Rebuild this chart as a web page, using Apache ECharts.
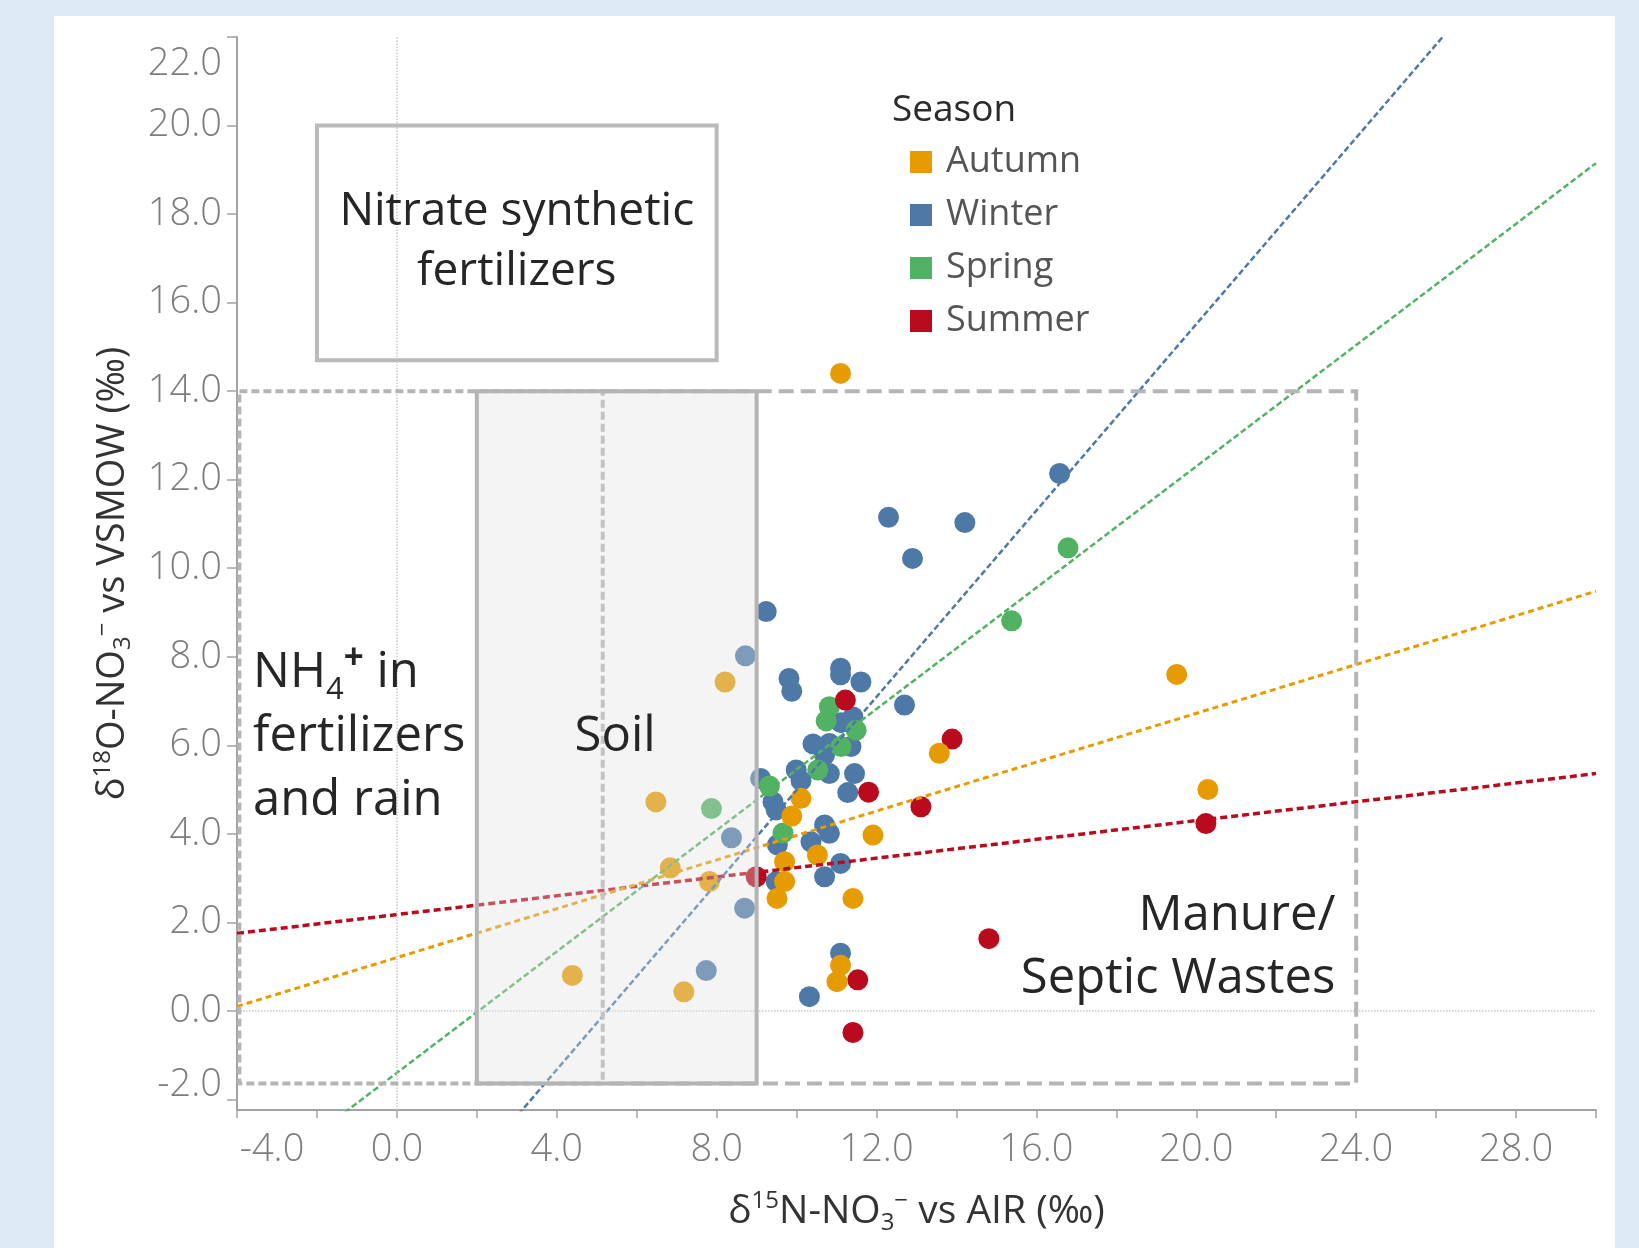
<!DOCTYPE html>
<html>
<head>
<meta charset="utf-8">
<title>Season</title>
<script src="https://cdn.jsdelivr.net/npm/echarts@6/dist/echarts.min.js"></script>
<style>
    html, body {margin: 0; padding: 0; background: #dde9f5;}
    #chart {width: 1639px; height: 1248px;}
</style>
</head>
<body>
<div id="chart"></div>
<script>
var FONT = '"Open Sans", "Noto Sans", sans-serif';

// 季节 (图例顺序)
var seasons = ['Autumn', 'Winter', 'Spring', 'Summer'];
var seasonColors = {Autumn: '#e69b00', Winter: '#4e79a7', Spring: '#52b264', Summer: '#b90a1e'};

// δ15N, δ18O
var autumnPoints = [
    [11.10, 14.40], [8.21, 7.43], [6.48, 4.72], [6.84, 3.23], [7.82, 2.92], [4.39, 0.80], [7.18, 0.43],
    [19.51, 7.60], [13.57, 5.82], [20.29, 5.00], [11.91, 3.97], [10.11, 4.80], [9.88, 4.40], [9.70, 3.37],
    [10.52, 3.52], [9.70, 2.92], [9.51, 2.54], [11.41, 2.54], [11.10, 1.03], [11.01, 0.66]
];
var winterPoints = [
    [8.72, 8.02], [9.24, 9.02], [12.30, 11.15], [14.21, 11.03], [12.90, 10.22], [16.58, 12.14],
    [9.81, 7.51], [9.88, 7.22], [11.10, 7.74], [11.10, 7.59], [11.61, 7.43], [12.70, 6.91],
    [11.41, 6.64], [11.11, 6.51], [10.41, 6.03], [10.82, 6.04], [11.36, 5.97], [10.70, 5.78],
    [9.10, 5.25], [9.99, 5.44], [10.82, 5.36], [11.45, 5.36], [10.11, 5.20], [11.28, 4.93],
    [9.41, 4.72], [9.49, 4.54], [8.37, 3.91], [9.52, 3.75], [10.70, 4.20], [10.82, 4.01],
    [10.36, 3.82], [11.10, 3.33], [10.70, 3.03], [9.49, 2.92], [8.70, 2.32], [7.74, 0.91],
    [11.10, 1.30], [10.32, 0.32]
];
var springPoints = [
    [16.79, 10.46], [15.38, 8.81], [10.82, 6.87], [10.74, 6.55], [11.49, 6.34],
    [11.11, 5.97], [10.53, 5.44], [9.32, 5.08], [9.66, 4.02], [7.87, 4.57]
];
var summerPoints = [
    [11.22, 7.02], [13.89, 6.14], [11.80, 4.94], [13.11, 4.61], [20.24, 4.23],
    [8.99, 3.03], [14.81, 1.63], [11.53, 0.70], [11.41, -0.49]
];

// 趋势线两端 (x = -4 与 x = 30)
var autumnTrend = [[-4, 0.10], [30, 9.48]];
var winterTrend = [[-4, -9.75], [30, 26.04]];
var springTrend = [[-4, -4.14], [30, 19.15]];
var summerTrend = [[-4, 1.75], [30, 5.36]];

// 刻度
var xTicks = [-4, -2, 0, 2, 4, 6, 8, 10, 12, 14, 16, 18, 20, 22, 24, 26, 28, 30];
var xLabels = [-4, 0, 4, 8, 12, 16, 20, 24, 28];
var yTicks = [-2, 0, 2, 4, 6, 8, 10, 12, 14, 16, 18, 20, 22];

// 来源区域 [x1, y1, x2, y2]
var nh4Box = [-3.94, -1.64, 5.15, 14];
var manureBox = [5.15, -1.64, 24, 14];
var soilBox = [2, -1.64, 9, 14];
var nitrateBox = [-2, 14.7, 8, 20];

// 区域说明文字
var noteText = ['Nitrate synthetic\nfertilizers', 'NH{sub|4}{sup|+} in\nfertilizers\nand rain', 'Soil', 'Manure/\nSeptic Wastes'];
var noteAnchor = [[3, 17.38], [-3.6, 6.18], [5.46, 6.18], [23.48, 1.42]];
var noteAlign = ['center', 'left', 'center', 'right'];
var noteSize = [46, 49, 49, 49];
var noteLineHeight = [60, 64, 64, 63];

var chart = echarts.init(document.getElementById('chart'));

function scatterSeries(name, data) {
    return {
        name: name,
        type: 'scatter',
        data: data,
        symbol: 'circle',
        symbolSize: 21,
        z: 2,
        itemStyle: {color: seasonColors[name], opacity: 1},
        emphasis: {disabled: true}
    };
}

function trendSeries(name, data, width, dash) {
    return {
        name: name + ' trend',
        type: 'line',
        data: data,
        symbol: 'none',
        clip: true,
        silent: true,
        z: 3,
        lineStyle: {color: seasonColors[name], width: width, type: dash},
        emphasis: {disabled: true}
    };
}

var axisGray = '#a3a3a3';
var tickColor = '#7d7d7d';
var tickSize = 38;
var nameRich = {
    sup: {fontSize: 24, lineHeight: 26, verticalAlign: 'top', color: '#333', fontFamily: FONT},
    sub: {fontSize: 24, lineHeight: 26, verticalAlign: 'bottom', color: '#333', fontFamily: FONT}
};

var winterScatter = scatterSeries('Winter', winterPoints);
// 零线
winterScatter.markLine = {
    silent: true,
    symbol: ['none', 'none'],
    label: {show: false},
    lineStyle: {type: 'dotted', color: '#c9c9c9', width: 1.5},
    emphasis: {disabled: true},
    data: [{xAxis: 0}, {yAxis: 0}]
};

var option = {
    animation: false,
    backgroundColor: '#dde9f5',
    graphic: [{
        type: 'rect', left: 54, top: 16, z: -10, silent: true,
        shape: {width: 1561, height: 1240},
        style: {fill: '#ffffff'}
    }],
    title: {
        text: 'Season',
        left: 887,
        top: 87,
        textStyle: {fontSize: 37, fontWeight: 'normal', color: '#2b2b2b', fontFamily: FONT}
    },
    legend: {
        orient: 'vertical',
        left: 905,
        top: 139,
        itemWidth: 22,
        itemHeight: 22,
        itemGap: 17,
        icon: 'rect',
        selectedMode: false,
        data: seasons,
        itemStyle: {borderWidth: 0},
        textStyle: {fontSize: 36, lineHeight: 36, color: '#555', fontFamily: FONT, padding: [0, 0, 0, 9]}
    },
    grid: {left: 237, right: 43, top: 37, bottom: 138, containLabel: false, outerBoundsMode: 'none'},
    xAxis: {
        type: 'value',
        min: -4,
        max: 30,
        name: 'δ{sup|15}N-NO{sub|3}{sup|−} vs AIR (‰)',
        nameLocation: 'middle',
        nameGap: 79,
        nameMoveOverlap: false,
        nameTextStyle: {fontSize: 39, lineHeight: 46, color: '#333', fontFamily: FONT, rich: nameRich},
        axisLine: {show: true, onZero: false, lineStyle: {color: axisGray, width: 2}},
        axisTick: {show: true, length: 8, customValues: xTicks, lineStyle: {color: axisGray, width: 1.5}},
        axisLabel: {
            customValues: xLabels,
            margin: 21,
            fontSize: tickSize,
            color: tickColor,
            fontFamily: FONT,
            fontWeight: 300,
            formatter: function (value) {
                if (value === -4) {
                    return '{first|' + value.toFixed(1) + '}';
                }
                return value.toFixed(1);
            },
            rich: {first: {padding: [0, 0, 0, 70], fontSize: tickSize, color: tickColor, fontFamily: FONT, fontWeight: 300}}
        },
        splitLine: {show: false}
    },
    yAxis: {
        type: 'value',
        min: -2.24,
        max: 22,
        name: 'δ{sup|18}O-NO{sub|3}{sup|−} vs VSMOW (‰)',
        nameLocation: 'middle',
        nameRotate: 90,
        nameGap: 102,
        nameMoveOverlap: false,
        nameTextStyle: {fontSize: 38, lineHeight: 44, color: '#333', fontFamily: FONT, rich: nameRich},
        axisLine: {show: true, onZero: false, lineStyle: {color: axisGray, width: 2}},
        axisTick: {show: true, length: 10, customValues: yTicks, lineStyle: {color: axisGray, width: 1.5}},
        axisLabel: {
            customValues: yTicks,
            margin: 15,
            fontSize: tickSize,
            color: tickColor,
            fontFamily: FONT,
            fontWeight: 300,
            formatter: function (value) {
                if (value === 22) {
                    return '{top|' + value.toFixed(1) + '}'; // 顶端标签下移
                }
                if (value === -2) {
                    return '{bottom|' + value.toFixed(1) + '}'; // 底端标签上移
                }
                return value.toFixed(1);
            },
            rich: {
                top: {padding: [54, 0, 0, 0], fontSize: tickSize, color: tickColor, fontFamily: FONT, fontWeight: 300},
                bottom: {padding: [0, 0, 28, 0], fontSize: tickSize, color: tickColor, fontFamily: FONT, fontWeight: 300}
            }
        },
        splitLine: {show: false}
    },
    series: [
        winterScatter,
        scatterSeries('Spring', springPoints),
        scatterSeries('Summer', summerPoints),
        scatterSeries('Autumn', autumnPoints),
        trendSeries('Summer', summerTrend, 3.5, [7, 4]),
        trendSeries('Autumn', autumnTrend, 3, [6, 4]),
        trendSeries('Spring', springTrend, 2.5, [6, 3]),
        trendSeries('Winter', winterTrend, 2.5, [6, 3]),
        {
            // 来源区域框
            name: 'regions',
            type: 'custom',
            z: 5,
            silent: true,
            clip: false,
            data: [nh4Box, manureBox, soilBox, nitrateBox],
            renderItem: function (params, api) {
                var tl = api.coord([api.value(0), api.value(3)]);
                var br = api.coord([api.value(2), api.value(1)]);
                var i = params.dataIndex;
                if (i === 1) {
                    // 左侧不画边
                    return {
                        type: 'polyline',
                        shape: {points: [[tl[0], tl[1]], [br[0], tl[1]], [br[0], br[1]], [tl[0], br[1]]]},
                        style: {fill: 'none', stroke: '#b5b5b5', lineWidth: 4, lineDash: [15, 7]}
                    };
                }
                var style;
                if (i === 0) {
                    style = {fill: 'none', stroke: '#b5b5b5', lineWidth: 4, lineDash: [8, 4]};
                } else if (i === 2) {
                    style = {fill: 'rgba(223,223,223,0.34)', stroke: '#b4b4b4', lineWidth: 4};
                } else {
                    style = {fill: 'none', stroke: '#bababa', lineWidth: 4};
                }
                return {
                    type: 'rect',
                    shape: {x: tl[0], y: tl[1], width: br[0] - tl[0], height: br[1] - tl[1]},
                    style: style
                };
            }
        },
        {
            // 区域说明文字
            name: 'notes',
            type: 'custom',
            z: 6,
            silent: true,
            clip: false,
            data: noteAnchor,
            renderItem: function (params, api) {
                var p = api.coord([api.value(0), api.value(1)]);
                var i = params.dataIndex;
                return {
                    type: 'text',
                    x: p[0],
                    y: p[1],
                    style: {
                        text: noteText[i],
                        fill: '#262626',
                        fontSize: noteSize[i],
                        fontFamily: FONT,
                        align: noteAlign[i],
                        verticalAlign: 'middle',
                        lineHeight: noteLineHeight[i],
                        rich: {
                            sub: {fontSize: 31, lineHeight: 36, verticalAlign: 'bottom', fill: '#262626', fontFamily: FONT},
                            sup: {fontSize: 35, lineHeight: 40, verticalAlign: 'top', fontWeight: 'bold', fill: '#262626', fontFamily: FONT}
                        }
                    }
                };
            }
        }
    ]
};

chart.setOption(option);
</script>
</body>
</html>
